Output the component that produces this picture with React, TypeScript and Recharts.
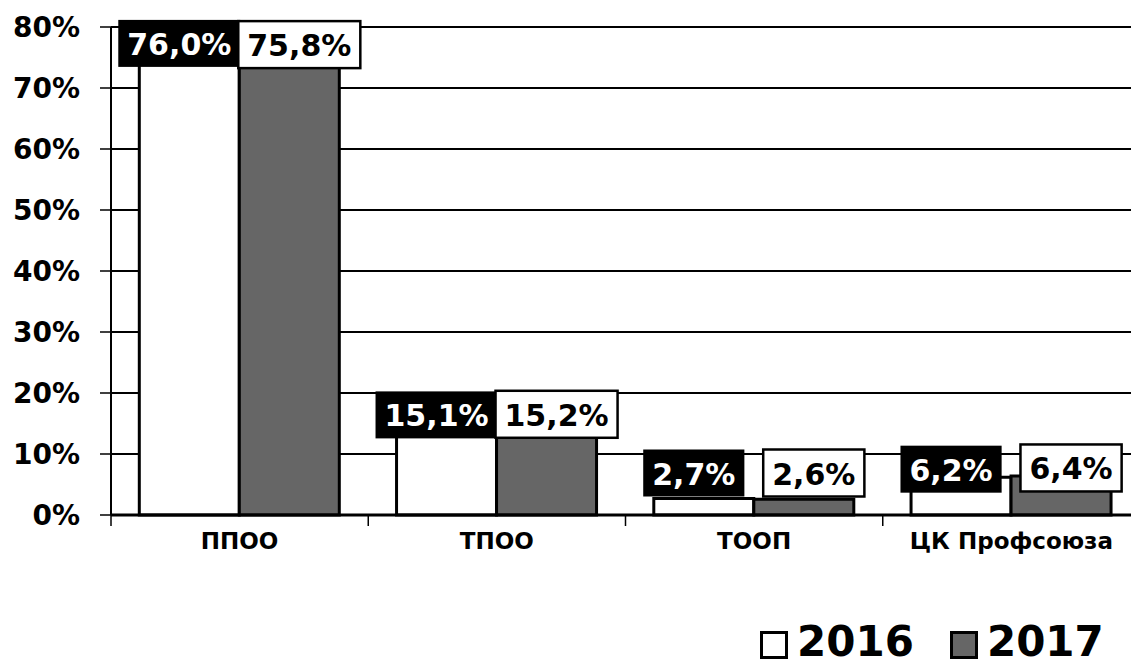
import { BarChart, Bar, XAxis, YAxis, CartesianGrid, LabelList, Legend } from "recharts"

const categories = ["ППОО", "ТПОО", "ТООП", "ЦК Профсоюза"]
const values2016 = [76.0, 15.1, 2.7, 6.2]
const values2017 = [75.8, 15.2, 2.6, 6.4]
const yTicks = [0, 10, 20, 30, 40, 50, 60, 70, 80]
const seriesNames = ["2016", "2017"]

const FONT = "'DejaVu Sans', Verdana, sans-serif"
const CHART_W = 1160
const CHART_H = 665
const MARGIN = { top: 27, right: 20, bottom: 68, left: 0 }
const Y_AXIS_W = 111
const HALF_BAND = (CHART_W - MARGIN.left - MARGIN.right - Y_AXIS_W) / categories.length / 2

const data = categories.map((name, i) => ({
  name,
  y2016: values2016[i],
  y2017: values2017[i],
}))

const fmt = (v: number) => v.toFixed(1).replace(".", ",") + "%"

// rough DejaVu Sans Bold advance widths (em)
const charW = (c: string) => (c === "," ? 0.38 : c === "%" ? 1.0 : 0.696)

function makeLabel(dark: boolean, shift: number) {
  return (props: any) => {
    const x = Number(props.x)
    const y = Number(props.y)
    const w = Number(props.width)
    const h = Number(props.height)
    const text = fmt(Number(props.value))
    const fs = 30
    const tw = text.split("").reduce((s, c) => s + charW(c) * fs, 0)
    const bw = tw + 18
    const bh = 47
    const cx = x + w / 2 + shift
    const cy = Math.min(y - 8, y + h - 42)
    return (
      <g>
        <rect
          x={cx - bw / 2}
          y={cy - bh / 2}
          width={bw}
          height={bh}
          fill={dark ? "#000" : "#fff"}
          stroke="#000"
          strokeWidth={dark ? 0 : 2.5}
        />
        <text
          x={cx}
          y={cy + 1}
          textAnchor="middle"
          dominantBaseline="central"
          fontFamily={FONT}
          fontWeight="bold"
          fontSize={fs}
          fill={dark ? "#fff" : "#000"}
        >
          {text}
        </text>
      </g>
    )
  }
}

function CategoryTick(props: any) {
  const { x, y, payload, index } = props
  const isLast = index === categories.length - 1
  return (
    <g>
      <line x1={x - HALF_BAND} y1={y} x2={x - HALF_BAND} y2={y + 11} stroke="#000" strokeWidth={1.5} />
      {isLast && <line x1={x + HALF_BAND} y1={y} x2={x + HALF_BAND} y2={y + 11} stroke="#000" strokeWidth={1.5} />}
      <text
        x={x}
        y={y + 26}
        textAnchor="middle"
        dominantBaseline="central"
        fontFamily={FONT}
        fontWeight="bold"
        fontSize={23}
        fill="#000"
      >
        {payload.value}
      </text>
    </g>
  )
}

function LegendContent() {
  const fills = ["#ffffff", "#666666"]
  return (
    <div style={{ display: "flex", alignItems: "center", fontFamily: FONT, fontWeight: "bold", fontSize: 42, lineHeight: "42px" }}>
      {seriesNames.map((s, i) => (
        <div key={s} style={{ display: "flex", alignItems: "center", marginLeft: i ? 36 : 0 }}>
          <span
            style={{
              display: "inline-block",
              width: 22,
              height: 22,
              background: fills[i],
              border: "3px solid #000",
              marginRight: 9,
              marginTop: 6,
            }}
          />
          <span>{s}</span>
        </div>
      ))}
    </div>
  )
}

export default function App() {
  return (
    <div
      style={{
        position: "absolute",
        left: 0,
        top: 0,
        width: 1131,
        height: 665,
        overflow: "hidden",
        background: "#fff",
      }}
    >
      <BarChart
        width={CHART_W}
        height={CHART_H}
        data={data}
        margin={MARGIN}
        barCategoryGap="11%"
        barGap={0}
      >
        <CartesianGrid horizontal vertical={false} stroke="#000" strokeWidth={2} />
        <XAxis
          dataKey="name"
          tick={<CategoryTick />}
          tickLine={false}
          tickSize={0}
          tickMargin={0}
          axisLine={{ stroke: "#000", strokeWidth: 3 }}
          height={40}
          interval={0}
        />
        <YAxis
          width={Y_AXIS_W}
          domain={[0, 80]}
          ticks={yTicks}
          tickFormatter={(v: number) => `${v}%`}
          tick={{ fill: "#000", fontFamily: FONT, fontWeight: "bold", fontSize: 28 }}
          tickSize={11}
          tickMargin={20}
          tickLine={{ stroke: "#000", strokeWidth: 1.5 }}
          axisLine={{ stroke: "#000", strokeWidth: 2 }}
        />
        <Legend
          verticalAlign="bottom"
          content={<LegendContent />}
          wrapperStyle={{ position: "absolute", left: 760, top: 621, width: 370, height: 42 }}
        />
        <Bar dataKey="y2016" name={seriesNames[0]} fill="#ffffff" stroke="#000" strokeWidth={3} isAnimationActive={false}>
          <LabelList dataKey="y2016" content={makeLabel(true, -10)} />
        </Bar>
        <Bar dataKey="y2017" name={seriesNames[1]} fill="#666666" stroke="#000" strokeWidth={3} isAnimationActive={false}>
          <LabelList dataKey="y2017" content={makeLabel(false, 10)} />
        </Bar>
      </BarChart>
    </div>
  )
}
